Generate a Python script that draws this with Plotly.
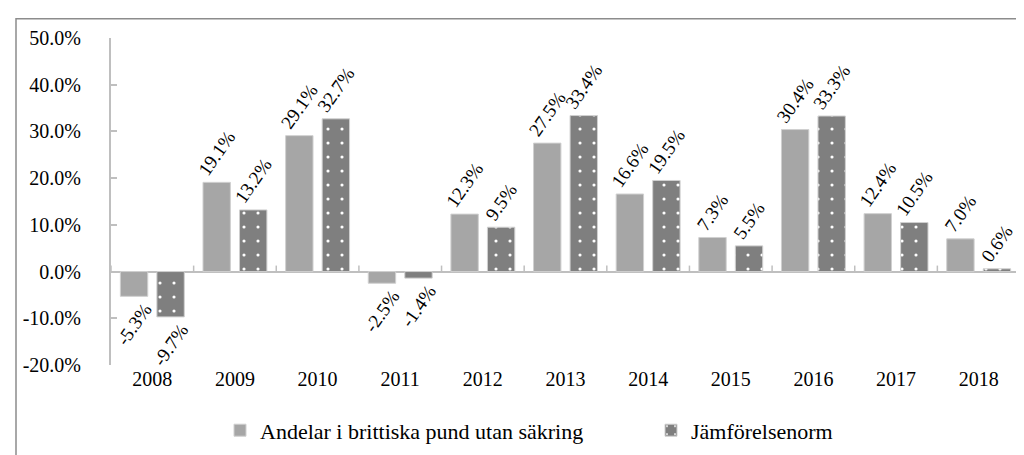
import plotly.graph_objects as go

years = ["2008", "2009", "2010", "2011", "2012", "2013", "2014", "2015", "2016", "2017", "2018"]
andelar = [-5.3, 19.1, 29.1, -2.5, 12.3, 27.5, 16.6, 7.3, 30.4, 12.4, 7.0]
jamforelse = [-9.7, 13.2, 32.7, -1.4, 9.5, 33.4, 19.5, 5.5, 33.3, 10.5, 0.6]
series_names = ["Andelar i brittiska pund utan säkring", "Jämförelsenorm"]
y_ticks = [-20, -10, 0, 10, 20, 30, 40, 50]

FONT = "Liberation Serif"
AXIS_GREY = "#BFBFBF"
idx = list(range(len(years)))


def pct(v):
    return f"{v:.1f}%"  # plain hyphen for negatives, as in the original


fig = go.Figure()
fig.add_trace(go.Bar(
    x=idx, y=andelar, name=series_names[0], legend="legend",
    marker=dict(color="#A6A6A6", line=dict(color="#D0D0D0", width=1)),
    text=[pct(v) for v in andelar], texttemplate="%{text}",
    textposition="outside", textangle=-55,
    textfont=dict(family=FONT, size=19, color="#000000"),
    cliponaxis=False, constraintext="none", hoverinfo="skip",
))
fig.add_trace(go.Bar(
    x=idx, y=jamforelse, name=series_names[1], legend="legend2",
    marker=dict(color="#7F7F7F", line=dict(color="#D0D0D0", width=1),
                pattern=dict(shape=".", fgcolor="#FFFFFF", bgcolor="#7F7F7F",
                             size=14, solidity=0.04, fillmode="replace")),
    text=[pct(v) for v in jamforelse], texttemplate="%{text}",
    textposition="outside", textangle=-55,
    textfont=dict(family=FONT, size=19, color="#000000"),
    cliponaxis=False, constraintext="none", hoverinfo="skip",
))

ymin, ymax = -20, 50

# category-boundary tick marks rising from the zero line (axis decoration)
boundary_ticks = [dict(type="line", xref="x", yref="y", x0=i - 0.5, x1=i - 0.5,
                       ysizemode="pixel", yanchor=0, y0=0, y1=6,
                       line=dict(color=AXIS_GREY, width=1.5), layer="above")
                  for i in range(len(years) + 1)]

frame = dict(type="rect", xref="paper", yref="paper",
             x0=(8 - 103) / 909, x1=(1030 - 103) / 909,
             y0=(370 - 470) / 340, y1=(370 - 10) / 340,
             line=dict(color="#8C8C8C", width=1.5), fillcolor="rgba(0,0,0,0)", layer="below")

legend_common = dict(orientation="h", xanchor="left", y=-0.2, yanchor="middle",
                     font=dict(family=FONT, size=22, color="#000000"),
                     itemwidth=30, bgcolor="rgba(0,0,0,0)")

fig.update_layout(
    width=1024, height=455,
    margin=dict(l=103, r=12, t=30, b=85),
    paper_bgcolor="#FFFFFF", plot_bgcolor="#FFFFFF",
    barmode="group", bargap=0.116, bargroupgap=0.25,
    font=dict(family=FONT, size=20, color="#000000"),
    showlegend=True,
    legend=dict(x=(212 - 103) / 909, **legend_common),
    legend2=dict(x=(643 - 103) / 909, **legend_common),
    xaxis=dict(
        range=[-0.5, len(years) - 0.5],
        tickmode="array", tickvals=idx, ticktext=years,
        showline=False, ticks="", showgrid=False, zeroline=False,
        tickfont=dict(family=FONT, size=20, color="#000000"),
    ),
    yaxis=dict(
        range=[ymin, ymax],
        tickmode="array", tickvals=y_ticks, ticktext=[pct(v) for v in y_ticks],
        showline=True, linecolor=AXIS_GREY, linewidth=2,
        ticks="inside", ticklen=6, tickwidth=1.5, tickcolor=AXIS_GREY,
        ticklabelstandoff=24,
        showgrid=False, zeroline=True, zerolinecolor=AXIS_GREY, zerolinewidth=2,
        tickfont=dict(family=FONT, size=20, color="#000000"),
    ),
    shapes=[frame] + boundary_ticks,
)

fig.write_html("out.html")
